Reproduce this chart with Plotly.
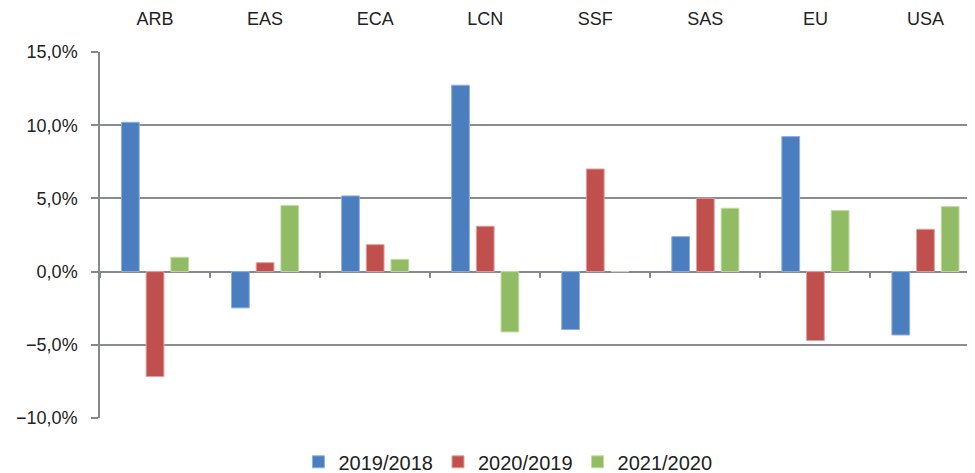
import plotly.graph_objects as go

categories = ["ARB", "EAS", "ECA", "LCN", "SSF", "SAS", "EU", "USA"]
series_names = ["2019/2018", "2020/2019", "2021/2020"]
v2019 = [10.2, -2.48, 5.17, 12.73, -3.96, 2.39, 9.22, -4.33]
v2020 = [-7.17, 0.61, 1.84, 3.10, 7.01, 5.01, -4.71, 2.89]
v2021 = [0.98, 4.51, 0.84, -4.12, 0.0, 4.33, 4.17, 4.44]
colors = ["#4A7EBF", "#C0504D", "#91BC63"]
edge_colors = ["#8EB0DE", "#E0A09E", "#C3DBA7"]

y_ticks = [-10, -5, 0, 5, 10, 15]
y_tick_text = ["\u221210,0%", "\u22125,0%", "0,0%", "5,0%", "10,0%", "15,0%"]
boundary_ticks = [i - 0.5 for i in range(len(categories))]

FONT = "Liberation Sans"
fig = go.Figure()
xs = list(range(len(categories)))
for name, vals, c, ec in zip(series_names, [v2019, v2020, v2021], colors, edge_colors):
    fig.add_trace(go.Bar(x=xs, y=vals, name=name, marker=dict(color=c, line=dict(color=ec, width=1))))

# dummy trace to carry the zero-line tick axis
fig.add_trace(go.Scatter(x=[0], y=[0], xaxis="x2", mode="markers",
                         marker=dict(opacity=0), showlegend=False, hoverinfo="skip"))

xr = [-0.5, 7.45]
fig.update_layout(
    width=967, height=465,
    margin=dict(l=92, r=0, t=44, b=55),
    paper_bgcolor="white", plot_bgcolor="white",
    barmode="group", bargap=0.327, bargroupgap=0.28,
    font=dict(family=FONT, size=17, color="#222222"),
    xaxis=dict(side="top", range=xr, tickmode="array", tickvals=xs, ticktext=categories,
               showgrid=False, zeroline=False, showline=False, ticks="", automargin=False,
               ticklabelstandoff=22, tickfont=dict(size=18)),
    xaxis2=dict(overlaying="x", anchor="free", position=0.4, side="bottom", range=xr,
                tickmode="array", tickvals=boundary_ticks, ticks="outside", ticklen=5,
                tickcolor="#868890", tickwidth=1.5, showticklabels=False, automargin=False,
                showgrid=False, zeroline=False, showline=False),
    yaxis=dict(range=[-10, 15], tickmode="array", tickvals=y_ticks, ticktext=y_tick_text,
               showgrid=True, gridcolor="#8A8C92", gridwidth=1.7, automargin=False,
               zeroline=True, zerolinecolor="#868890", zerolinewidth=2,
               showline=True, linecolor="#868890", linewidth=1.5,
               ticks="outside", ticklen=7, tickcolor="#868890", tickwidth=1.5,
               ticklabelstandoff=10, tickfont=dict(size=18)),
    legend=dict(orientation="h", xref="container", yref="container",
                x=0.517, y=0.024, xanchor="center", yanchor="middle",
                font=dict(size=20), itemwidth=30, traceorder="normal"),
)
fig.write_html("out.html")
